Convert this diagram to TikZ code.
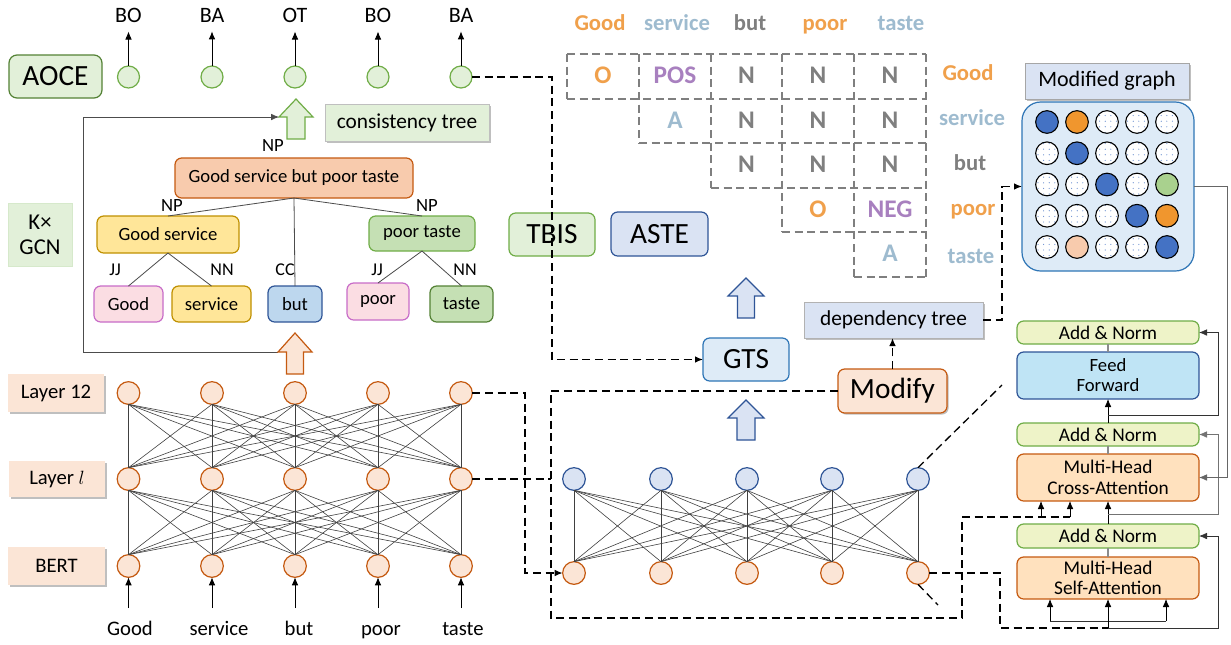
\documentclass[tikz,border=0pt]{standalone}
\usepackage{fontspec}
\setmainfont{Carlito}
\usetikzlibrary{arrows.meta,calc,patterns,shadows}
\definecolor{lgfill}{HTML}{E2F0D9}
\definecolor{gdraw}{HTML}{548235}
\definecolor{gdraw2}{HTML}{70AD47}
\definecolor{ofill}{HTML}{FBE5D6}
\definecolor{odraw}{HTML}{C55A11}
\definecolor{rootfill}{HTML}{F8CBAD}
\definecolor{yfill}{HTML}{FFE699}
\definecolor{ydraw}{HTML}{BF9000}
\definecolor{pfill}{HTML}{FBDDE3}
\definecolor{pdraw}{HTML}{C86CC8}
\definecolor{gleaf}{HTML}{C5E0B4}
\definecolor{bfill}{HTML}{BDD7EE}
\definecolor{bdraw}{HTML}{2F5597}
\definecolor{bfill2}{HTML}{DAE3F3}
\definecolor{gtsfill}{HTML}{DEEBF7}
\definecolor{gtsdraw}{HTML}{2E75B6}
\definecolor{anfill}{HTML}{EEF3C8}
\definecolor{fffill}{HTML}{BFE4F5}
\definecolor{cafill}{HTML}{FFE1BE}
\definecolor{torange}{HTML}{F0A04B}
\definecolor{tblue}{HTML}{9EBBCF}
\definecolor{tgray}{HTML}{7F7F7F}
\definecolor{tpurple}{HTML}{A880BF}
\definecolor{mblue}{HTML}{4472C4}
\definecolor{morange}{HTML}{F0962E}
\definecolor{mgreen}{HTML}{A9D18E}
\definecolor{mpeach}{HTML}{F8CBAD}
\pgfdeclarepatternformonly{sparsedots}{\pgfqpoint{-1pt}{-1pt}}{\pgfqpoint{4pt}{4pt}}{\pgfqpoint{4.2pt}{4.2pt}}{\pgfpathcircle{\pgfqpoint{1.5pt}{1.5pt}}{0.45pt}\pgfusepath{fill}}
\newcommand\fsz[1]{\fontsize{#1}{#1}\selectfont}
\newcommand\pbx[7]{\node[#6, minimum width={(#4-#2)*0.75pt}, minimum height={(#5-#3)*0.75pt}] (#1) at ({(#2+#4)/2},{(#3+#5)/2}) {#7};}
\newcommand\blockup[7]{\draw[#7] ({#1-#6},#4) -- ({#1-#6},#3) -- ({#1-#5},#3) -- (#1,#2) -- ({#1+#5},#3) -- ({#1+#6},#3) -- ({#1+#6},#4) -- cycle;}
\tikzset{
  box/.style={draw, rounded corners=5pt, line width=0.9pt, inner sep=0pt, outer sep=0pt, align=center},
  sqbox/.style={inner sep=0pt, outer sep=0pt, align=center},
  shad/.style={drop shadow={shadow xshift=1.2pt, shadow yshift=-1.2pt, opacity=0.25, fill=black}},
  lab/.style={inner sep=0pt, outer sep=0pt},
  arr/.style={-{Latex[length=6pt,width=5pt]}, line width=0.6pt},
  dsh/.style={dash pattern=on 6pt off 3.5pt, line width=1pt},
  darr/.style={dsh, -{Latex[length=6pt,width=5pt]}},
  gc/.style={circle, draw=gdraw2, fill=lgfill, line width=0.9pt, minimum size=16.5pt, inner sep=0pt, outer sep=0pt},
  oc/.style={circle, draw=odraw, fill=ofill, line width=0.9pt, minimum size=17pt, inner sep=0pt, outer sep=0pt},
  bc/.style={circle, draw=bdraw, fill=bfill2, line width=0.9pt, minimum size=17pt, inner sep=0pt, outer sep=0pt},
  mc/.style={circle, draw=black, line width=0.8pt, minimum size=17pt, inner sep=0pt},
  mdot/.style={mc, preaction={fill=white}, pattern=sparsedots, pattern color=mblue!80},
  net/.style={line width=0.45pt, draw=black!75},
  tl/.style={line width=0.6pt, draw=black!70},
  gline/.style={line width=0.8pt, draw=black!45},
  grid/.style={draw=tgray, line width=1.1pt, dash pattern=on 6pt off 3.5pt},
  cellt/.style={inner sep=0pt, font=\fsz{19}\bfseries, anchor=base},
  hdr/.style={inner sep=0pt, font=\fsz{17}\bfseries, anchor=base},
  word/.style={inner sep=0pt, font=\fsz{15.5}, anchor=base, text height=10pt},
}
\begin{document}
\begin{tikzpicture}[x=0.75pt,y=-0.75pt]
\useasboundingbox (0,0) rectangle (1231,644);
\fill[white] (0,0) rectangle (1231,644);

% ---------------- top AOCE row
\pbx{aoce}{9}{55}{102}{98}{box, fill=lgfill, draw=gdraw, rounded corners=6pt, font=\fsz{22}}{AOCE}
\foreach \i/\x/\t in {1/128.5/BO, 2/212/BA, 3/295/OT, 4/378/BO, 5/461/BA}{
  \node[gc] (g\i) at (\x,77) {};
  \node[lab, font=\fsz{16.5}] (t\i) at (\x,15) {\t};
  \draw[arr, shorten >=7pt] (g\i.north) -- (t\i.south);
}

% ---------------- consistency tree
\blockup{296}{99}{117}{139}{17}{9}{fill=lgfill, draw=gdraw2, line width=0.9pt}
\pbx{ct}{325}{104}{489}{141}{sqbox, fill=lgfill, draw=black!25, shad, font=\fsz{16}}{consistency tree}
\node[lab, font=\fsz{14}] (np0) at (273,146) {NP};
\pbx{root}{175}{158}{413}{198}{box, fill=rootfill, draw=odraw, font=\fsz{14}}{Good service but poor taste}
\node[lab, font=\fsz{14}] (np1) at (172,206) {NP};
\node[lab, font=\fsz{14}] (np2) at (427,206) {NP};
\pbx{gs}{97}{216}{239}{253}{box, fill=yfill, draw=ydraw, font=\fsz{14}}{Good service}
\pbx{pt}{369}{216}{475}{251}{box, fill=gleaf, draw=gdraw2, font=\fsz{14}}{poor taste}
\node[lab, font=\fsz{13.5}] (jj1) at (115,270) {JJ};
\node[lab, font=\fsz{13.5}] (nn1) at (222,270) {NN};
\node[lab, font=\fsz{13.5}] (cc1) at (285,270) {CC};
\node[lab, font=\fsz{13.5}] (jj2) at (377,270) {JJ};
\node[lab, font=\fsz{13.5}] (nn2) at (465,270) {NN};
\pbx{lgood}{94}{286}{163}{322}{box, fill=pfill, draw=pdraw, font=\fsz{14}}{Good}
\pbx{lserv}{172}{286}{251}{322}{box, fill=yfill, draw=ydraw, font=\fsz{14}}{service}
\pbx{lbut}{268}{286}{322}{322}{box, fill=bfill, draw=bdraw, font=\fsz{14}}{but}
\pbx{lpoor}{347}{283}{409}{320}{box, fill=pfill, draw=pdraw, font=\fsz{14}}{poor}
\pbx{ltaste}{430}{286}{493}{322}{box, fill=gleaf, draw=gdraw, font=\fsz{14}}{taste}
\draw[tl] (root.south) -- (gs.north);
\draw[tl] (root.south) -- (pt.north);
\draw[tl] (root.south) -- (lbut.north);
\draw[tl] (gs.south) -- (lgood.north);
\draw[tl] (gs.south) -- (lserv.north);
\draw[tl] (pt.south) -- (lpoor.north);
\draw[tl] (pt.south) -- (ltaste.north);
\pbx{kgcn}{8}{203}{72}{266}{sqbox, fill=lgfill, draw=gleaf!70, font=\fsz{17}}{K×\\[2pt]GCN}

% feedback line
\coordinate (oa) at (278,352);
\coordinate (ga) at (279,117);
\coordinate (fb) at (83,117);
\draw[arr, draw=black!70] (oa) -| (fb) -- (ga);

% ---------------- left BERT network
\blockup{295}{333}{352}{374}{17}{8.5}{fill=ofill, draw=odraw, line width=0.9pt}
\pbx{l12}{8}{374}{104}{412}{sqbox, fill=ofill, shad, font=\fsz{15.5}}{Layer 12}
\pbx{ll}{9}{461}{105}{497}{sqbox, fill=ofill, shad, font=\fsz{15.5}}{Layer $l$}
\pbx{bert}{8}{547}{105}{585}{sqbox, fill=ofill, shad, font=\fsz{15.5}}{BERT}
\foreach \i/\x in {1/128.5, 2/212, 3/295, 4/378, 5/461}{
  \node[oc] (a\i) at (\x,393) {};
  \node[oc] (b\i) at (\x,479) {};
  \node[oc] (c\i) at (\x,566) {};
}
\foreach \i in {1,...,5}{
  \foreach \j in {1,...,5}{
    \draw[net] (a\i.south) -- (b\j.north);
    \draw[net] (b\i.south) -- (c\j.north);
  }
}
\foreach \i/\x/\w in {1/130/Good, 2/219/service, 3/299/but, 4/381/poor, 5/463/taste}{
  \node[word] (w\i) at (\x,635) {\w};
  \draw[arr, shorten <=10pt] (w\i.north -| c\i.south) -- (c\i.south);
}

% ---------------- middle boxes
\pbx{tbis}{509}{213}{595}{256}{box, fill=lgfill, draw=gdraw2, font=\fsz{22}}{TBIS}
\pbx{aste}{611}{212}{708}{256}{box, fill=bfill2, draw=bdraw, font=\fsz{22}}{ASTE}
\pbx{gts}{703}{338}{789}{381}{box, fill=gtsfill, draw=gtsdraw, font=\fsz{22}}{GTS}
\blockup{746}{278}{296}{318}{18}{8.5}{fill=bfill2, draw=bdraw, line width=0.9pt}
\blockup{746}{400}{418}{440}{18}{9}{fill=bfill2, draw=bdraw, line width=0.9pt}
\pbx{dep}{804}{302}{983}{338}{sqbox, fill=bfill2, draw=black!30, shad, font=\fsz{16}}{dependency tree}
\pbx{mod}{838}{369}{947}{413}{box, fill=ofill, draw=odraw, shad, font=\fsz{22}}{Modify}

% ---------------- right lower network
\foreach \i/\x in {1/574, 2/661, 3/747, 4/832, 5/918}{
  \node[bc] (q\i) at (\x,479) {};
  \node[oc] (r\i) at (\x,573) {};
}
\foreach \i in {1,...,5}{
  \foreach \j in {1,...,5}{
    \draw[net] (q\i.south) -- (r\j.north);
  }
}

% ---------------- table
\foreach \xa/\xb/\ya/\yb in {567/926/54/54, 567/926/99/99, 639/926/143/143, 711/926/188/188, 782/926/232/232, 854/926/277/277,
  567/567/54/99, 639/639/54/143, 711/711/54/188, 782/782/54/232, 854/854/54/277, 926/926/54/277}{
  \draw[grid] (\xa,\ya) -- (\xb,\yb);
}
\node[cellt, text=torange] (c11) at (603,83.5) {O};
\node[cellt, text=tpurple] (c12) at (675,83.5) {POS};
\node[cellt, text=tgray] (c13) at (746.5,83.5) {N};
\node[cellt, text=tgray] (c14) at (818,83.5) {N};
\node[cellt, text=tgray] (c15) at (890,83.5) {N};
\node[cellt, text=tblue] (c22) at (675,128) {A};
\node[cellt, text=tgray] (c23) at (746.5,128) {N};
\node[cellt, text=tgray] (c24) at (818,128) {N};
\node[cellt, text=tgray] (c25) at (890,128) {N};
\node[cellt, text=tgray] (c33) at (746.5,172.5) {N};
\node[cellt, text=tgray] (c34) at (818,172.5) {N};
\node[cellt, text=tgray] (c35) at (890,172.5) {N};
\node[cellt, text=torange] (c44) at (818,217) {O};
\node[cellt, text=tpurple] (c45) at (890,217) {NEG};
\node[cellt, text=tblue] (c55) at (890,261.5) {A};
\node[hdr, text=torange] (h1) at (600,30) {Good};
\node[hdr, text=tblue] (h2) at (677,30) {service};
\node[hdr, text=tgray] (h3) at (750,30) {but};
\node[hdr, text=torange] (h4) at (825,30) {poor};
\node[hdr, text=tblue] (h5) at (901,30) {taste};
\node[hdr, text=torange] (v1) at (968,80) {Good};
\node[hdr, text=tblue] (v2) at (972,125) {service};
\node[hdr, text=tgray] (v3) at (970,170) {but};
\node[hdr, text=torange] (v4) at (973,215) {poor};
\node[hdr, text=tblue] (v5) at (971,263) {taste};

% ---------------- modified graph
\pbx{mg}{1022}{102}{1194}{271}{box, fill=gtsfill, draw=gtsdraw, rounded corners=14pt}{}
\pbx{mgl}{1025}{63}{1189}{99}{sqbox, fill=bfill2, draw=black!35, shad, font=\fsz{16.5}}{Modified graph}
\foreach \r/\c in {1/3,1/4,1/5,2/1,2/3,2/4,2/5,3/1,3/2,3/4,4/1,4/2,4/3,5/1,5/3,5/4}{
  \node[mdot] (m\r\c) at ({1047+30*(\c-1)},{122+31.25*(\r-1)}) {};
}
\foreach \r/\c/\col in {1/1/mblue,2/2/mblue,3/3/mblue,4/4/mblue,5/5/mblue,1/2/morange,3/5/mgreen,4/5/morange,5/2/mpeach}{
  \node[mc, fill=\col] (m\r\c) at ({1047+30*(\c-1)},{122+31.25*(\r-1)}) {};
}

% ---------------- transformer stack
\pbx{an1}{1017}{321}{1199}{344}{box, fill=anfill, draw=gdraw2, font=\fsz{14.5}}{Add \& Norm}
\pbx{ff}{1017}{352}{1199}{399}{box, fill=fffill, draw=bdraw, font=\fsz{14}}{Feed\\[1pt]Forward}
\pbx{an2}{1017}{423}{1199}{446}{box, fill=anfill, draw=gdraw2, font=\fsz{14.5}}{Add \& Norm}
\pbx{ca}{1017}{454}{1199}{501}{box, fill=cafill, draw=odraw, font=\fsz{14.5}}{Multi-Head\\[1pt]Cross-Attention}
\pbx{an3}{1017}{524}{1199}{548}{box, fill=anfill, draw=gdraw2, font=\fsz{14.5}}{Add \& Norm}
\pbx{sa}{1017}{557}{1199}{599}{box, fill=cafill, draw=odraw, font=\fsz{14.5}}{Multi-Head\\[1pt]Self-Attention}
\draw[gline] (an1.south) -- (ff.north);
\draw[gline] (an2.south) -- (ca.north);
\draw[gline] (an3.south) -- (sa.north);
\draw[arr] (an2.north) -- (ff.south);
\draw[arr] (an3.north) -- (ca.south);
\coordinate (j1) at (1108,415);
\coordinate (j2) at (1108,514);
\coordinate (j3) at (1108,628);
\coordinate (sl) at (1050,621);
\coordinate (sr) at (1166,621);
\draw[arr, draw=black!80] (j1) -| ($(an1.east)+(19,0)$) -- (an1.east);
\draw[arr, draw=black!55] (j2) -| ($(an2.east)+(19,0)$) -- (an2.east);
\draw[arr, draw=black!80] (j3) -| ($(an3.east)+(19,0)$) -- (an3.east);
\draw[line width=0.6pt, draw=black!80] (sl) -- (sr);
\draw[arr] (j3) -- (sa.south);
\draw[arr] (sl) -- (sl |- sa.south);
\draw[arr] (sr) -- (sr |- sa.south);
\draw[arr, draw=black!60] (mg.east) -| ($(ca.east)+(28,0)$) -- (ca.east);

% ---------------- dashed connectors
\coordinate (k1) at (552,359.5);
\draw[darr] (g5.east) -| (k1) -- (gts.west);
\coordinate (k2) at (551,618);
\coordinate (k3) at (962,517);
\coordinate (k4) at (1070,517);
\coordinate (k9) at (1041,517);
\draw[dsh] (mod.west) -| (k2) -| (k3) -- (k4);
\draw[arr] (k9) -- (k9 |- ca.south);
\draw[arr] (k4) -- (k4 |- ca.south);
\coordinate (k5) at (525,573);
\draw[darr] (a5.east) -| (k5) -- (r1.west);
\draw[dsh] (b5.east) -- (b5.east -| k2);
\coordinate (j5) at (1000,628);
\draw[dsh] (r5.east) -| (j5) -- (j3);
\coordinate (k7) at (1002,385);
\coordinate (k8) at (938,605);
\draw[dsh] (q5.north) -- (k7);
\draw[dsh] (r5.south) -- (k8);
\draw[darr] (mod.north) -- (mod.north |- dep.south);
\coordinate (k6) at (1002,186.5);
\draw[darr] (dep.east) -| (k6) -- (mg.west);
\end{tikzpicture}
\end{document}
